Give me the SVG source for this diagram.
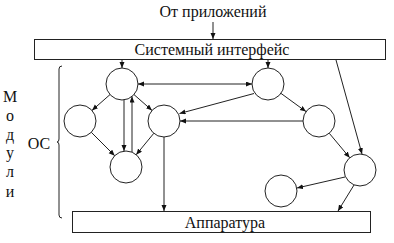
<svg xmlns="http://www.w3.org/2000/svg" width="394" height="243" viewBox="0 0 394 243">
<style>
.t{font-family:'Liberation Serif','Times New Roman','DejaVu Serif',serif;fill:#111;}
.box{fill:#fff;stroke:#222;stroke-width:1;}
.node{fill:#fff;stroke:#222;stroke-width:1;}
.c{stroke:#222;stroke-width:1;fill:none;marker-end:url(#ah);}
.bi{marker-start:url(#ah);}
</style>
<defs>
<marker id="ah" markerUnits="userSpaceOnUse" markerWidth="7" markerHeight="6" refX="6" refY="2.5" orient="auto-start-reverse">
<path d="M0,0 L6,2.5 L0,5 z" fill="#111"/>
</marker>
</defs>
<rect width="394" height="243" fill="#fff"/>
<g id="title"><text class="t" x="213" y="17" font-size="16" text-anchor="middle">От приложений</text></g>
<g id="sys"><rect class="box" x="34.5" y="39.5" width="351" height="20"/><text class="t" x="212" y="54.5" font-size="16" text-anchor="middle">Системный интерфейс</text></g>
<g id="hw"><rect class="box" x="72.5" y="211.5" width="298" height="21"/><text class="t" x="225" y="227.5" font-size="16" text-anchor="middle">Аппаратура</text></g>
<g id="moduli" font-size="16" text-anchor="middle">
<text class="t" x="10" y="102">М</text><text class="t" x="10" y="121">о</text><text class="t" x="10" y="140">д</text><text class="t" x="10" y="158">у</text><text class="t" x="10" y="177">л</text><text class="t" x="10" y="197">и</text>
</g>
<g id="os"><text class="t" x="39" y="149" font-size="16" text-anchor="middle">ОС</text>
<path d="M62,66 Q59,66 59,69 L59,139 Q59,142 57,142 Q59,142 59,145 L59,215 Q59,218 62,218" fill="none" stroke="#222" stroke-width="1"/></g>
<g id="nA"><circle class="node" cx="122" cy="84" r="16"/></g>
<g id="nB"><circle class="node" cx="80" cy="121" r="16"/></g>
<g id="nC"><circle class="node" cx="164" cy="121" r="16"/></g>
<g id="nD"><circle class="node" cx="126" cy="167" r="16"/></g>
<g id="nE"><circle class="node" cx="268" cy="84" r="16"/></g>
<g id="nF"><circle class="node" cx="319" cy="121" r="16"/></g>
<g id="nG"><circle class="node" cx="360" cy="170" r="16"/></g>
<g id="nH"><circle class="node" cx="281" cy="191" r="16"/></g>
<g id="connectors">
<line class="c" x1="213" y1="22" x2="213" y2="39"/>
<line class="c" x1="122" y1="60" x2="122" y2="68"/>
<line class="c" x1="268" y1="60" x2="268" y2="68"/>
<line class="c" x1="336" y1="60" x2="362" y2="154"/>
<line class="c bi" x1="138" y1="84" x2="252" y2="84"/>
<line class="c" x1="110" y1="94.6" x2="92" y2="110.4"/>
<line class="c" x1="134" y1="94.6" x2="152" y2="110.4"/>
<line class="c" x1="124" y1="100" x2="124" y2="151"/>
<line class="c" x1="132" y1="152" x2="132" y2="96.5"/>
<line class="c" x1="91.3" y1="132.3" x2="114.7" y2="155.7"/>
<line class="c" x1="153.8" y1="133.3" x2="136.2" y2="154.7"/>
<line class="c" x1="164" y1="137" x2="164" y2="211"/>
<line class="c" x1="254" y1="93.5" x2="179.5" y2="113.5"/>
<line class="c" x1="303" y1="121" x2="180" y2="121"/>
<line class="c" x1="281" y1="93.4" x2="306" y2="111.6"/>
<line class="c" x1="329.3" y1="133.3" x2="349.7" y2="157.7"/>
<line class="c" x1="345" y1="177" x2="297" y2="188"/>
<line class="c" x1="354" y1="185" x2="338" y2="211"/>
</g>
</svg>
